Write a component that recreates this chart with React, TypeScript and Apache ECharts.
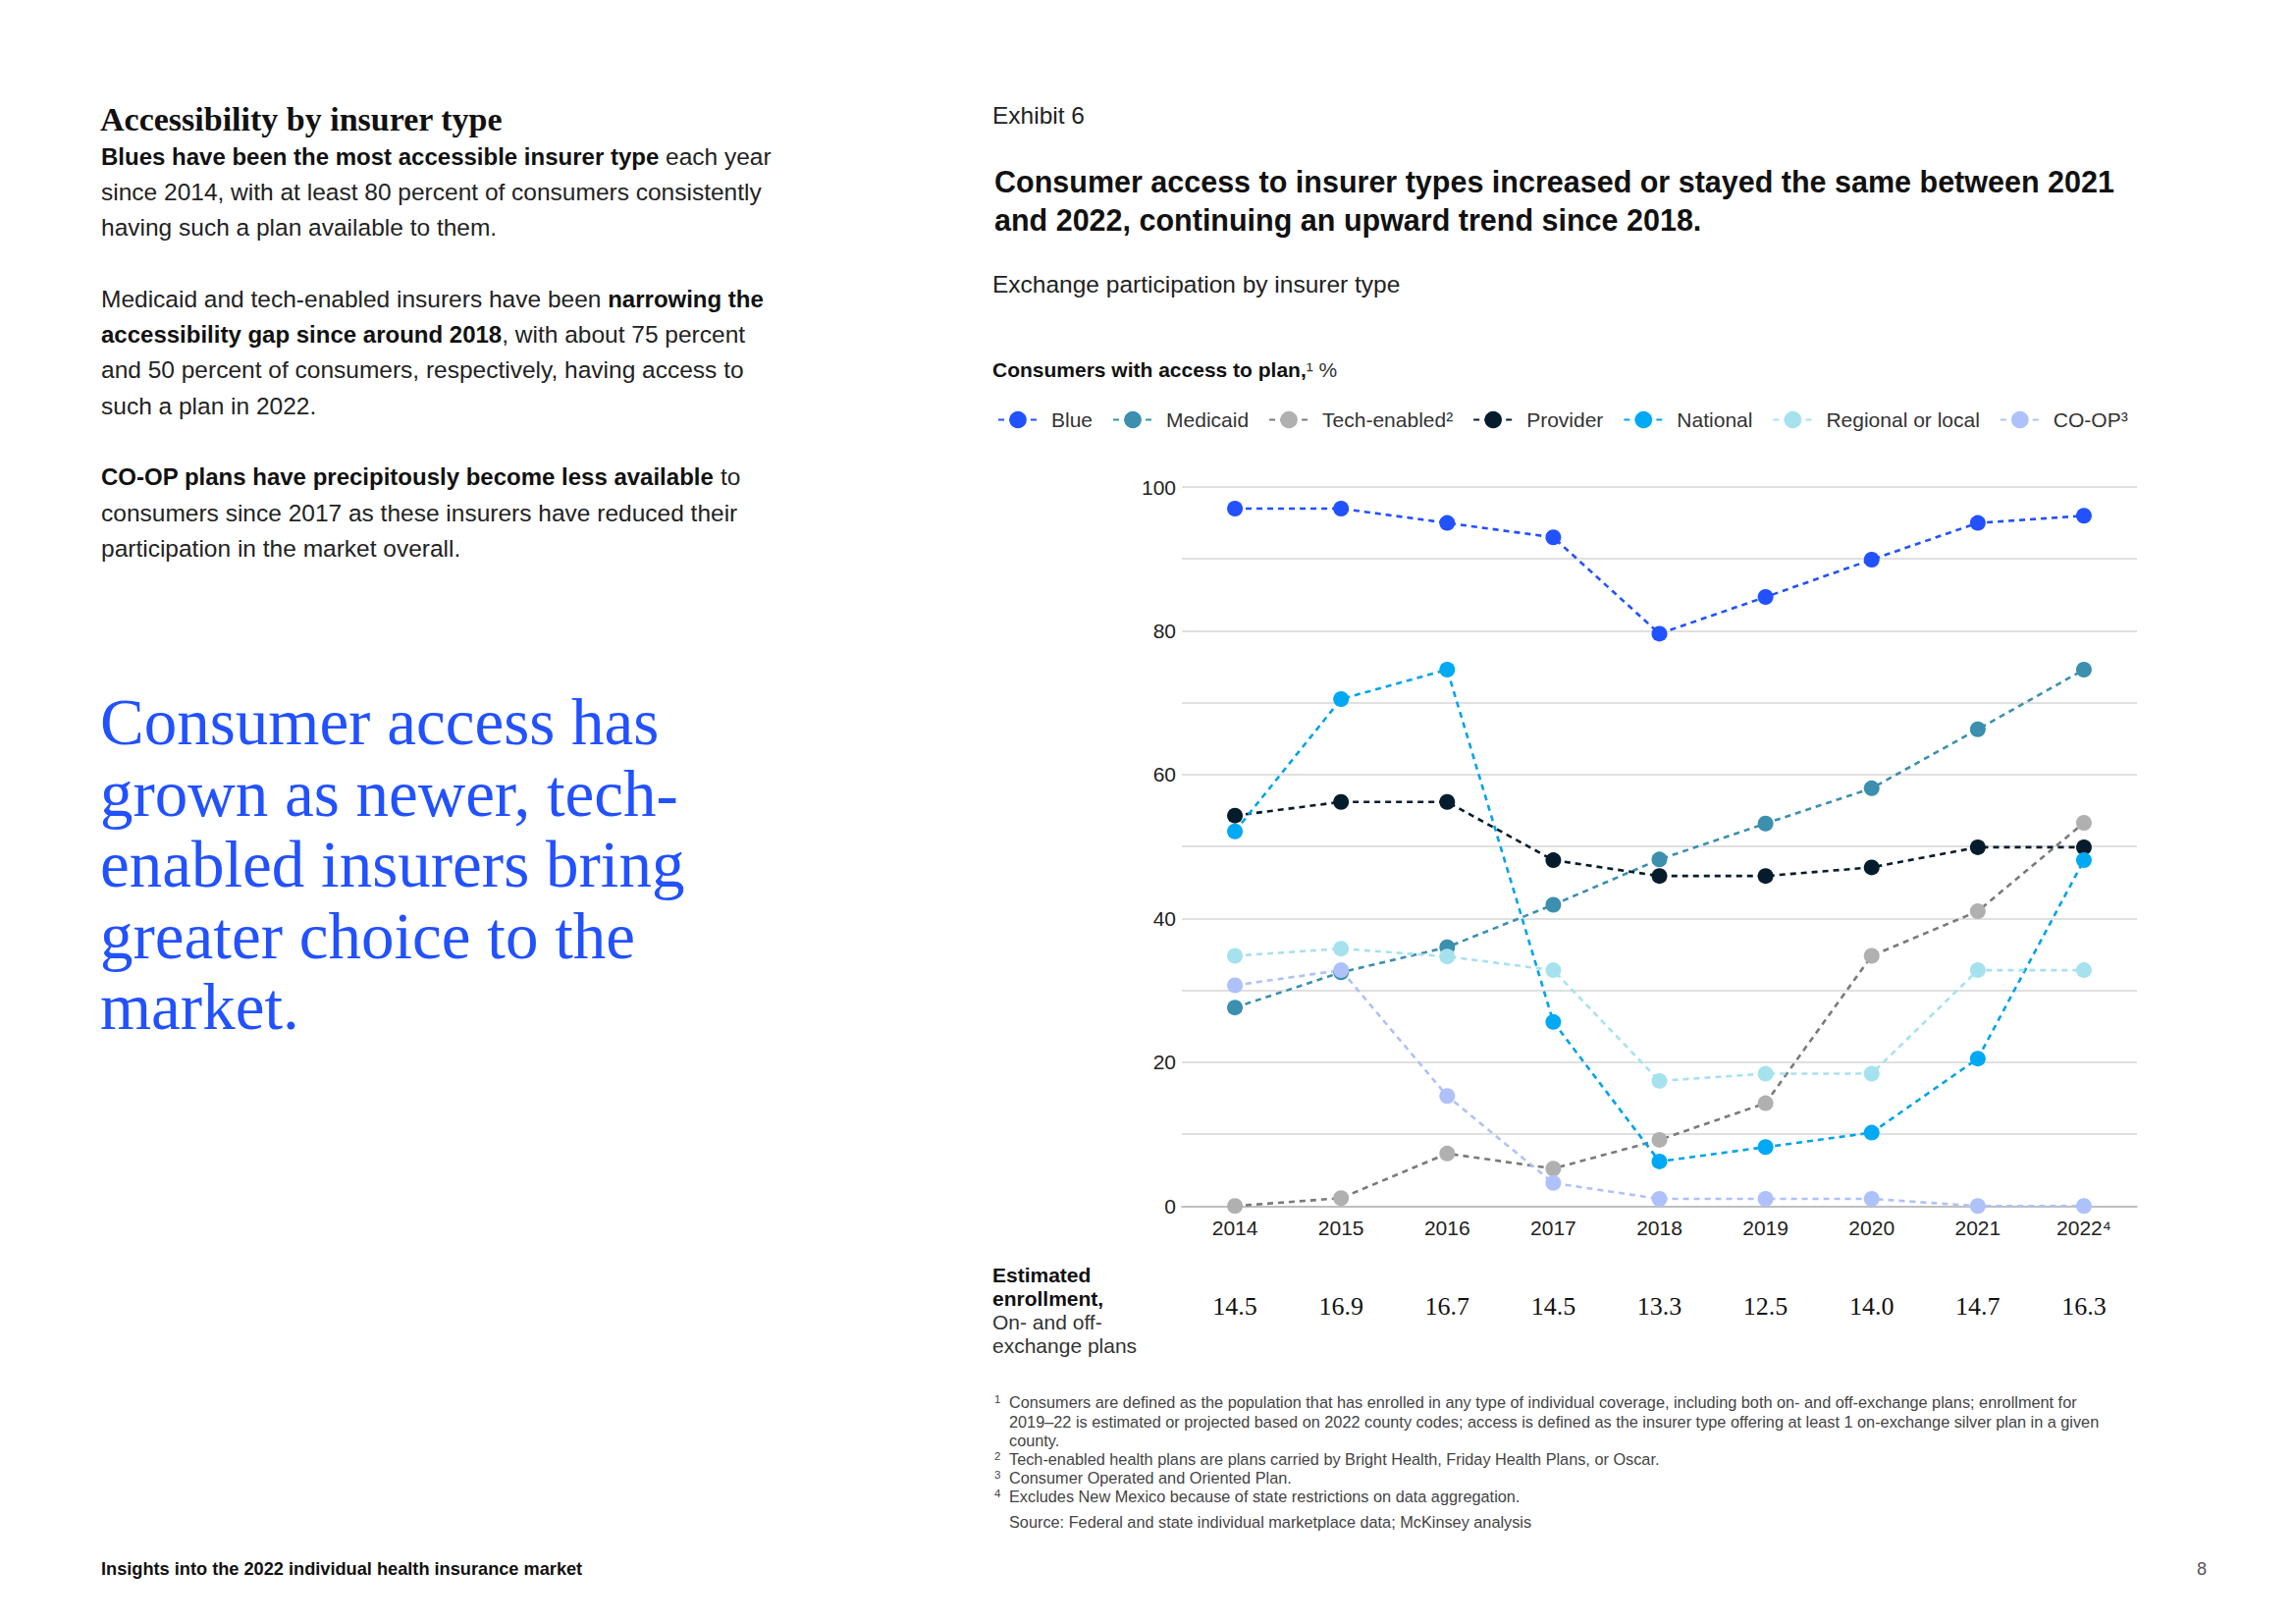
import React, { useEffect, useRef } from "react";
import * as echarts from "echarts";

const years = ["2014", "2015", "2016", "2017", "2018", "2019", "2020", "2021", "2022⁴"];
const blueValues = [97, 97, 95, 93, 79.6, 84.7, 89.9, 95, 96];
const medicaidValues = [27.6, 32.5, 36, 41.9, 48.2, 53.2, 58.1, 66.3, 74.6];
const techValues = [0, 1.1, 7.3, 5.2, 9.2, 14.3, 34.8, 41, 53.3];
const providerValues = [54.3, 56.2, 56.2, 48.1, 45.9, 45.9, 47.1, 49.9, 49.9];
const nationalValues = [52.1, 70.5, 74.6, 25.6, 6.2, 8.2, 10.2, 20.5, 48.1];
const regionalValues = [34.8, 35.8, 34.7, 32.8, 17.4, 18.4, 18.4, 32.8, 32.8];
const coopValues = [30.7, 32.8, 15.3, 3.2, 1, 1, 1, 0, 0];
const enrollmentValues = ["14.5", "16.9", "16.7", "14.5", "13.3", "12.5", "14.0", "14.7", "16.3"];
const yLabelStep = 20;

const seriesDefs = [
  { name: "Blue", data: blueValues, line: "#2251FF", dot: "#2251FF" },
  { name: "Medicaid", data: medicaidValues, line: "#3C8FAE", dot: "#3C8FAE" },
  { name: "Tech-enabled²", data: techValues, line: "#7A7A7A", dot: "#B0B0B0" },
  { name: "Provider", data: providerValues, line: "#051C2C", dot: "#051C2C" },
  { name: "National", data: nationalValues, line: "#00A3E8", dot: "#00A9F4" },
  { name: "Regional or local", data: regionalValues, line: "#A6E2EE", dot: "#A6E2EE" },
  { name: "CO-OP³", data: coopValues, line: "#AFC1FA", dot: "#AFC1FA" },
];

const SANS = "'Liberation Sans', Arial, sans-serif";
const SERIF = "'Liberation Serif', 'Times New Roman', serif";

function txt(x: number, y: number, text: string, o: any = {}) {
  return {
    type: "text",
    x,
    y,
    silent: true,
    style: {
      text,
      fontFamily: o.family || SANS,
      fontSize: o.size || 24,
      fontWeight: o.weight || "normal",
      fill: o.color || "#1a1a1a",
      align: o.align || "left",
      textAlign: o.align || "left",
      verticalAlign: "middle",
      textVerticalAlign: "middle",
      rich: o.rich,
    },
  };
}

export default function App() {
  const ref = useRef<HTMLDivElement>(null);
  useEffect(() => {
    if (!ref.current) return;
    const chart = echarts.init(ref.current, null, { renderer: "svg" });

    const bodyRich = {
      b: { fontFamily: SANS, fontSize: 24, fontWeight: "bold", fill: "#111" },
    };
    const body = (y: number, t: string) =>
      txt(103, y, t, { size: 24.5, color: "#222", rich: bodyRich });

    const quoteLines = [
      "Consumer access has",
      "grown as newer, tech-",
      "enabled insurers bring",
      "greater choice to the",
      "market.",
    ];

    const footnotes: [string, string, number][] = [
      ["1", "Consumers are defined as the population that has enrolled in any type of individual coverage, including both on- and off-exchange plans; enrollment for", 1428],
      ["", "2019–22 is estimated or projected based on 2022 county codes; access is defined as the insurer type offering at least 1 on-exchange silver plan in a given", 1447.5],
      ["", "county.", 1467],
      ["2", "Tech-enabled health plans are plans carried by Bright Health, Friday Health Plans, or Oscar.", 1486],
      ["3", "Consumer Operated and Oriented Plan.", 1505],
      ["4", "Excludes New Mexico because of state restrictions on data aggregation.", 1524],
      ["", "Source: Federal and state individual marketplace data; McKinsey analysis", 1550],
    ];

    const graphics: any[] = [
      txt(102, 121, "Accessibility by insurer type", { family: SERIF, size: 34, weight: "bold", color: "#111" }),
      body(159.5, "{b|Blues have been the most accessible insurer type} each year"),
      body(195.5, "since 2014, with at least 80 percent of consumers consistently"),
      body(231.5, "having such a plan available to them."),
      body(304, "Medicaid and tech-enabled insurers have been {b|narrowing the}"),
      body(340, "{b|accessibility gap since around 2018}, with about 75 percent"),
      body(376.5, "and 50 percent of consumers, respectively, having access to"),
      body(413, "such a plan in 2022."),
      body(485.5, "{b|CO-OP plans have precipitously become less available} to"),
      body(522, "consumers since 2017 as these insurers have reduced their"),
      body(558, "participation in the market overall."),
      ...quoteLines.map((l, i) =>
        txt(102, 735 + i * 72.5, l, { family: SERIF, size: 67, color: "#2251FF" })
      ),
      txt(103, 1598, "Insights into the 2022 individual health insurance market", { size: 18.2, weight: "bold", color: "#111" }),
      txt(2243, 1598, "8", { size: 18, color: "#555", align: "center" }),
      txt(1011, 117, "Exhibit 6", { size: 24.5, color: "#222" }),
      txt(1013, 184.5, "Consumer access to insurer types increased or stayed the same between 2021", { size: 30.5, weight: "bold", color: "#111" }),
      txt(1013, 223.5, "and 2022, continuing an upward trend since 2018.", { size: 30.5, weight: "bold", color: "#111" }),
      txt(1011, 289.5, "Exchange participation by insurer type", { size: 24.5, color: "#222" }),
      txt(1011, 376.5, "{b|Consumers with access to plan,}¹ %", {
        size: 21,
        color: "#333",
        rich: { b: { fontFamily: SANS, fontSize: 21, fontWeight: "bold", fill: "#111" } },
      }),
      txt(1011, 1298, "Estimated", { size: 21, weight: "bold", color: "#111" }),
      txt(1011, 1322, "enrollment,", { size: 21, weight: "bold", color: "#111" }),
      txt(1011, 1346, "On- and off-", { size: 21, color: "#333" }),
      txt(1011, 1370, "exchange plans", { size: 21, color: "#333" }),
    ];
    footnotes.forEach(([n, t, y]) => {
      if (n) graphics.push(txt(1013, y - 3, n, { size: 11.5, color: "#444" }));
      graphics.push(txt(1028, y, t, { size: 16.3, color: "#444" }));
    });

    chart.setOption({
      animation: false,
      backgroundColor: "#ffffff",
      textStyle: { fontFamily: SANS },
      grid: { left: 1204, right: 162, top: 496, bottom: 425.7, containLabel: false },
      legend: {
        left: 1016,
        top: 417,
        padding: 0,
        itemWidth: 40,
        itemHeight: 22,
        itemGap: 20,
        textStyle: { fontFamily: SANS, fontSize: 21, color: "#333", padding: [0, 0, 0, 9] },
        data: seriesDefs.map((s) => s.name),
      },
      xAxis: [
        {
          type: "category",
          data: years,
          boundaryGap: true,
          axisTick: { show: false },
          axisLine: { lineStyle: { color: "#b4b4b4", width: 1.5 } },
          axisLabel: { color: "#222", fontSize: 21, margin: 12, fontFamily: SANS },
          splitLine: { show: false },
        },
        {
          type: "category",
          data: enrollmentValues,
          position: "bottom",
          offset: 0,
          boundaryGap: true,
          axisTick: { show: false },
          axisLine: { show: false },
          axisLabel: { color: "#111", fontSize: 26, margin: 89, fontFamily: SERIF },
          splitLine: { show: false },
        },
      ],
      yAxis: {
        type: "value",
        min: 0,
        max: 100,
        interval: 10,
        axisLine: { show: false },
        axisTick: { show: false },
        axisLabel: {
          color: "#222",
          fontSize: 21,
          margin: 6,
          fontFamily: SANS,
          formatter: (v: number) => (v % yLabelStep === 0 ? String(v) : ""),
        },
        splitLine: { lineStyle: { color: "#d6d6d6", width: 1.5 } },
      },
      series: seriesDefs.map((s) => ({
        name: s.name,
        type: "line",
        xAxisIndex: 0,
        data: s.data,
        symbol: "circle",
        symbolSize: 16,
        showAllSymbol: true,
        lineStyle: { color: s.line, width: 2.6, type: [6, 5] },
        itemStyle: { color: s.dot },
        emphasis: { disabled: true },
      })),
      graphic: graphics,
    });
    return () => chart.dispose();
  }, []);
  return (
    <div
      ref={ref}
      style={{ position: "fixed", left: 0, top: 0, width: 2339, height: 1654, background: "#fff" }}
    />
  );
}
